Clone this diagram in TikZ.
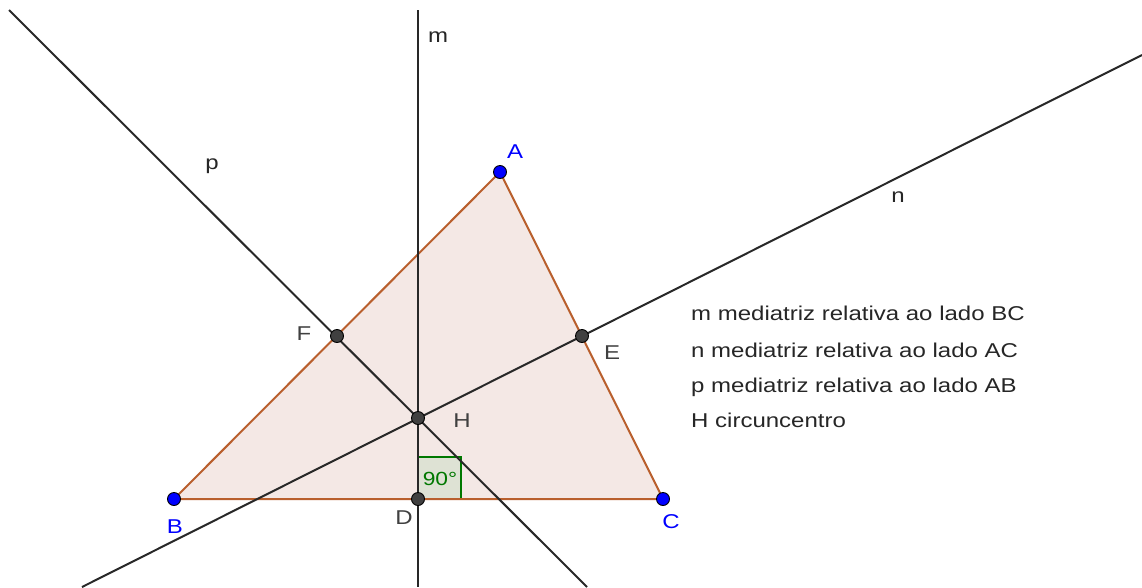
\documentclass[tikz,border=0pt]{standalone}
\usepackage{fontspec}
\setmainfont{Liberation Sans}[FakeStretch=1.2]
\definecolor{edgebrown}{RGB}{185,95,45}
\definecolor{trifill}{RGB}{244,232,229}
\definecolor{angfill}{RGB}{222,226,212}
\definecolor{anggreen}{RGB}{0,120,0}
\definecolor{linegray}{RGB}{40,40,40}
\definecolor{ptgray}{RGB}{64,64,64}
\definecolor{ptblue}{RGB}{0,0,255}
\tikzset{
  bisector/.style={draw=linegray,line width=2pt},
  side/.style={draw=edgebrown,line width=2pt},
  freept/.style={circle,fill=ptblue,draw=black,line width=0.9pt,inner sep=0pt,minimum size=13pt},
  deppt/.style={circle,fill=ptgray,draw=black,line width=0.9pt,inner sep=0pt,minimum size=13pt},
  ptlabel/.style={font=\fontsize{20}{24}\selectfont,inner sep=0pt},
  bluelabel/.style={ptlabel,text=ptblue},
  graylabel/.style={ptlabel,text=ptgray},
  legend/.style={font=\fontsize{20}{24}\selectfont,text=black!85,inner sep=0pt,anchor=base west}
}
\begin{document}
\begin{tikzpicture}[x=1pt,y=-1pt]
\useasboundingbox (0,0) rectangle (1142,587);
\fill[white] (0,0) rectangle (1142,587);
% points
\coordinate (A) at (500,172);
\coordinate (B) at (174,499);
\coordinate (C) at (663,499);
\coordinate (D) at (418,499);
\coordinate (E) at (582,336);
\coordinate (F) at (337,336);
\coordinate (H) at (418,418);
% line ends
\coordinate (m1) at (418,10);
\coordinate (m2) at (418,587);
\coordinate (p1) at (9,10);
\coordinate (p2) at (587,587);
\coordinate (n1) at (82,587);
\coordinate (n2) at (1142,55);
% triangle
\fill[trifill] (A) -- (B) -- (C) -- cycle;
% right angle mark
\filldraw[fill=angfill,draw=anggreen,line width=1.4pt] (D) rectangle (461,457);
\node[font=\fontsize{19}{22}\selectfont,text=anggreen,inner sep=0pt] (ang) at (440,479) {90°};
% sides
\draw[side] (A) -- (B) -- (C) -- cycle;
% bisectors
\draw[bisector] (m1) -- (m2);
\draw[bisector] (p1) -- (p2);
\draw[bisector] (n1) -- (n2);
% point markers
\node[freept] (nA) at (A) {};
\node[freept] (nB) at (B) {};
\node[freept] (nC) at (C) {};
\node[deppt] (nD) at (D) {};
\node[deppt] (nE) at (E) {};
\node[deppt] (nF) at (F) {};
\node[deppt] (nH) at (H) {};
% labels
\node[bluelabel] (lA) at (515,152) {A};
\node[bluelabel] (lB) at (175,527) {B};
\node[bluelabel] (lC) at (671,522) {C};
\node[graylabel] (lD) at (404,518) {D};
\node[graylabel] (lE) at (612,353) {E};
\node[graylabel] (lF) at (304,334) {F};
\node[graylabel] (lH) at (462,421) {H};
\node[ptlabel,text=black!85] (lm) at (438,37) {m};
\node[ptlabel,text=black!85] (lp) at (212,166) {p};
\node[ptlabel,text=black!85] (ln) at (898,197) {n};
% legend
\node[legend] (t1) at (691,320) {m mediatriz relativa ao lado BC};
\node[legend] (t2) at (691,357) {n mediatriz relativa ao lado AC};
\node[legend] (t3) at (691,392) {p mediatriz relativa ao lado AB};
\node[legend] (t4) at (691,427) {H circuncentro};
\end{tikzpicture}
\end{document}
